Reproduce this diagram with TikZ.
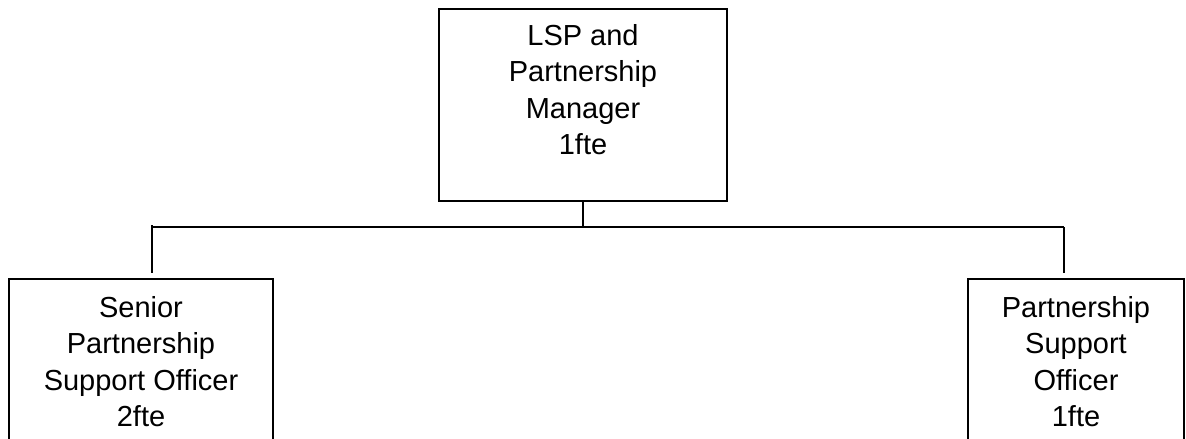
\documentclass[tikz,border=0pt]{standalone}
\usepackage{fontspec}
\setmainfont{Liberation Sans}
\tikzset{
  orgbox/.style={draw, line width=1.1pt, inner sep=0pt},
  orgtext/.style={inner sep=0pt, align=center, anchor=north, font=\fontsize{16.5}{20.8}\selectfont},
  link/.style={line width=0.65pt}
}
\begin{document}
\begin{tikzpicture}[x=0.02cm, y=-0.02cm]
  \clip (0,0) rectangle (1186,439);

  % ---- Top: manager ----
  \node[orgbox, minimum width=5.76cm, minimum height=3.84cm] (mgr) at (583,105) {};
  \node[orgtext] (mgrtxt) at (583,24) {LSP and\\Partnership\\Manager\\1fte};

  % ---- Bottom: officers (boxes run past the lower edge) ----
  \node[orgbox, minimum width=5.28cm, minimum height=3.82cm] (spso) at (141,374.5) {};
  \node[orgtext] (spsotxt) at (141,296) {Senior\\Partnership\\Support Officer\\2fte};
  \node[orgbox, minimum width=4.32cm, minimum height=3.82cm] (pso) at (1076,374.5) {};
  \node[orgtext] (psotxt) at (1076,296) {Partnership\\Support\\Officer\\1fte};

  % ---- Connectors ----
  \coordinate (busL) at (152,227);
  \coordinate (busR) at (1064,227);
  \coordinate (dropL) at (152,273);
  \coordinate (dropR) at (1064,273);
  \draw[link] (mgr.south) -- (mgr.south |- busL);
  \draw[link] (busL) -- (busR);
  \draw[link] ([yshift=0.04cm]busL) -- (dropL);
  \draw[link] (busR) -- (dropR);
\end{tikzpicture}
\end{document}
